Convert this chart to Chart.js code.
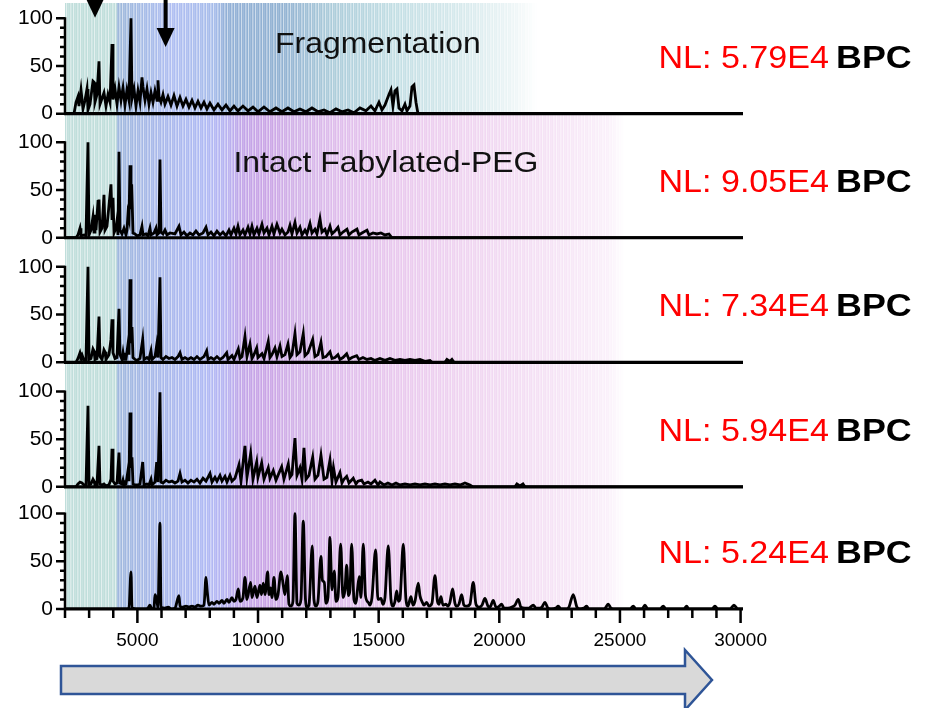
<!DOCTYPE html>
<html>
<head>
<meta charset="utf-8">
<script src="https://cdn.jsdelivr.net/npm/chart.js@4.4.1/dist/chart.umd.min.js"></script>
<style>
  html, body { margin: 0; padding: 0; background: #fff; }
  #wrap { width: 940px; height: 708px; }
</style>
</head>
<body>
<div id="wrap"><canvas id="spectra" width="940" height="708"></canvas></div>
<script>
const FONT = "'Liberation Sans', Arial, sans-serif";

// panel labels
const nlLabels = ["5.79E4", "9.05E4", "7.34E4", "5.94E4", "5.24E4"];
const panelTitles = ["Fragmentation", "Intact Fabylated-PEG"];
const titleMz = [14970, 15300];
const titleLevel = [64, 69];
const markerMz = [3245, 6170];
const markerTip = [100.5, 70];
const panelMax = [116, 130, 130.5, 130.5, 128];
const yTicks = [0, 50, 100];
const xLabelTicks = [5000, 10000, 15000, 20000, 25000, 30000];

// traces, [m/z, relative intensity]
const trace1 = [[2000,0],[2373,0],[2456,12],[2539,18],[2580,8],[2663,25],[2746,5],[2829,14],[2912,26],[2953,4],
  [3036,10],[3160,34],[3202,33],[3243,12],[3326,20],[3409,55],[3450,10],[3533,16],[3616,22],[3699,8],
  [3782,20],[3865,12],[3948,73],[3989,15],[4072,26],[4155,10],[4238,28],[4321,14],[4404,27],[4486,9],
  [4569,25],[4652,14],[4735,100],[4776,16],[4859,26],[4942,8],[5025,24],[5108,12],[5191,38],[5232,28],
  [5315,14],[5398,26],[5481,10],[5564,22],[5647,12],[5730,24],[5813,14],[5854,35],[5895,18],[5978,12],
  [6061,20],[6144,10],[6268,18],[6393,9],[6517,19],[6641,8],[6766,17],[6890,8],[7014,15],[7139,7],
  [7263,14],[7387,6],[7512,13],[7636,6],[7760,12],[7884,5],[8009,11],[8175,4],[8340,10],[8506,4],
  [8672,9],[8838,3],[9003,8],[9169,3],[9376,8],[9584,3],[9791,7],[9998,2],[10247,7],[10495,2],
  [10744,6],[10992,2],[11241,6],[11490,2],[11738,5],[11987,2],[12236,6],[12484,2],[12733,4],[12982,1],
  [13230,5],[13479,2],[13728,4],[13976,1],[14225,6],[14473,3],[14681,8],[14846,3],[15012,12],[15136,4],
  [15261,9],[15427,20],[15510,25],[15592,8],[15675,24],[15758,26],[15841,6],[15966,3],[16090,10],[16173,3],
  [16297,8],[16380,28],[16463,30],[16546,12],[16629,0],[30100,0]];

const trace2 = [[2000,0],[2456,0],[2539,3],[2622,10],[2663,2],[2787,3],[2870,2],[2953,100],[2995,3],[3077,8],
  [3160,22],[3202,6],[3243,24],[3285,8],[3368,38],[3409,40],[3450,6],[3533,10],[3616,45],[3658,8],
  [3740,12],[3906,56],[3948,20],[3989,42],[4031,5],[4113,10],[4155,18],[4196,3],[4238,90],[4279,8],
  [4362,4],[4445,10],[4528,3],[4569,8],[4611,25],[4652,20],[4694,76],[4735,30],[4764,56],[4818,5],
  [4901,4],[4984,2],[5108,3],[5191,12],[5232,3],[5357,4],[5440,2],[5522,10],[5564,3],[5688,5],
  [5771,10],[5813,3],[5895,5],[5937,82],[5978,6],[6061,4],[6144,8],[6227,3],[6351,5],[6558,4],
  [6724,12],[6807,3],[6931,6],[7055,2],[7180,5],[7304,3],[7428,7],[7553,3],[7719,5],[7843,11],
  [7926,3],[8050,6],[8175,2],[8299,7],[8423,3],[8547,6],[8672,2],[8796,8],[8879,3],[9003,10],
  [9086,4],[9169,12],[9252,3],[9376,8],[9459,3],[9584,11],[9666,4],[9749,12],[9832,3],[9956,10],
  [10039,4],[10164,14],[10247,5],[10371,10],[10454,3],[10578,12],[10661,4],[10785,14],[10910,5],[10992,9],
  [11117,3],[11241,6],[11324,13],[11407,4],[11531,16],[11614,5],[11738,11],[11821,3],[11946,8],[12028,4],
  [12153,15],[12236,5],[12360,9],[12443,4],[12567,20],[12650,6],[12774,9],[12857,3],[12982,12],[13065,4],
  [13189,7],[13313,11],[13396,3],[13521,6],[13686,9],[13769,3],[13893,6],[14100,9],[14183,3],[14308,5],
  [14515,8],[14598,3],[14764,5],[14929,4],[15095,5],[15261,3],[15427,4],[15551,0],[30100,0]];

const trace3 = [[2000,0],[2456,0],[2539,4],[2622,10],[2663,6],[2704,8],[2787,2],[2870,2],[2953,100],[2995,3],
  [3077,4],[3160,14],[3202,12],[3243,3],[3326,4],[3409,48],[3450,6],[3533,3],[3616,13],[3658,11],
  [3699,3],[3823,8],[3906,24],[3948,45],[3989,10],[4072,4],[4155,5],[4238,56],[4279,8],[4362,3],
  [4404,10],[4445,3],[4528,3],[4611,19],[4652,8],[4694,87],[4735,20],[4776,37],[4818,5],[4901,3],
  [4984,2],[5108,4],[5220,24],[5274,3],[5398,5],[5481,3],[5564,12],[5605,3],[5730,6],[5800,18],
  [5854,5],[5937,89],[5978,5],[6061,3],[6185,6],[6310,4],[6434,5],[6558,3],[6683,6],[6766,10],
  [6848,3],[6973,5],[7097,3],[7221,5],[7346,3],[7470,6],[7594,3],[7760,6],[7872,12],[7926,3],
  [8050,5],[8175,3],[8299,6],[8423,3],[8547,5],[8701,10],[8755,3],[8920,7],[9003,3],[9182,14],
  [9252,4],[9335,6],[9459,27],[9542,6],[9666,19],[9749,4],[9832,8],[9944,15],[9998,5],[10164,9],
  [10247,4],[10425,22],[10495,5],[10578,8],[10702,15],[10785,6],[10910,17],[10992,6],[11117,8],[11241,19],
  [11324,5],[11407,8],[11531,30],[11614,8],[11738,11],[11875,30],[11946,7],[12070,10],[12265,24],[12360,6],
  [12484,8],[12609,21],[12692,5],[12816,6],[12982,11],[13065,4],[13189,5],[13313,8],[13396,3],[13521,5],
  [13674,9],[13769,3],[13893,5],[14088,7],[14183,3],[14349,5],[14515,3],[14681,4],[14846,2],[15054,4],
  [15261,2],[15468,4],[15675,2],[15882,3],[16090,2],[16297,3],[16504,2],[16711,3],[16918,1],[17126,2],
  [17208,0],[17747,0],[17830,3],[17954,1],[18037,3],[18120,0],[30100,0]];

const trace4 = [[2000,0],[2456,0],[2539,3],[2622,5],[2704,4],[2787,2],[2870,1],[2953,85],[2995,2],[3077,3],
  [3160,8],[3202,6],[3243,2],[3326,2],[3409,43],[3450,3],[3533,2],[3616,3],[3699,1],[3823,2],
  [3906,8],[3948,40],[3989,6],[4072,3],[4155,4],[4238,36],[4279,4],[4362,3],[4404,7],[4445,2],
  [4528,3],[4611,17],[4652,6],[4694,78],[4735,20],[4776,31],[4818,3],[4901,2],[5025,2],[5108,3],
  [5220,26],[5274,2],[5398,3],[5481,2],[5564,8],[5605,2],[5730,5],[5800,26],[5854,5],[5937,99],
  [5978,5],[6061,4],[6185,7],[6310,5],[6434,6],[6558,4],[6683,6],[6766,14],[6848,5],[6973,7],
  [7097,4],[7221,7],[7346,5],[7470,8],[7594,4],[7719,9],[7843,6],[8009,14],[8092,5],[8216,10],
  [8299,6],[8423,12],[8506,6],[8630,11],[8713,5],[8838,12],[8920,6],[9045,9],[9211,23],[9294,6],
  [9459,43],[9542,10],[9695,35],[9791,8],[9944,26],[9998,10],[10151,25],[10247,8],[10425,20],[10495,9],
  [10632,17],[10744,7],[10827,12],[10980,21],[11075,8],[11254,24],[11324,10],[11407,13],[11531,51],[11614,12],
  [11738,20],[11821,8],[11904,41],[11987,8],[12111,12],[12265,31],[12360,8],[12484,12],[12609,33],[12733,8],
  [12857,10],[12982,28],[13065,6],[13127,20],[13230,5],[13396,15],[13479,4],[13562,8],[13674,11],[13769,4],
  [13947,9],[14059,3],[14142,6],[14295,7],[14391,3],[14556,5],[14681,3],[14846,7],[14971,2],[15054,5],
  [15219,2],[15385,4],[15551,2],[15717,4],[15882,2],[16090,3],[16297,2],[16504,3],[16711,2],[16918,3],
  [17126,2],[17333,3],[17540,2],[17747,3],[17954,2],[18162,3],[18369,2],[18576,4],[18783,2],[18908,0],
  [20648,0],[20731,3],[20855,1],[20980,3],[21062,0],[30100,0]];

const trace5 = [[2000,0],[4528,0],[4652,1],[4735,39],[4776,1],[5108,0],[5357,0],[5440,1],[5522,4],[5605,0],
  [5688,1],[5730,15],[5800,10],[5854,1],[5937,90],[5978,2],[6144,1],[6281,2],[6393,0],[6558,1],
  [6724,14],[6766,3],[6890,2],[7014,3],[7139,2],[7263,3],[7387,2],[7512,4],[7636,3],[7760,4],
  [7843,33],[7897,18],[7967,4],[8092,7],[8175,5],[8299,8],[8382,6],[8506,9],[8589,6],[8713,10],
  [8796,7],[8920,12],[9003,8],[9086,10],[9182,21],[9252,8],[9376,12],[9459,33],[9542,10],[9695,28],
  [9749,12],[9874,24],[9956,12],[10081,25],[10143,15],[10218,27],[10288,15],[10400,39],[10454,15],[10524,22],
  [10578,12],[10661,33],[10744,10],[10827,15],[10951,39],[11046,25],[11117,15],[11212,35],[11283,5],[11365,3],
  [11448,8],[11531,100],[11614,6],[11697,4],[11780,10],[11875,92],[11966,10],[12028,2],[12111,4],[12248,66],
  [12318,10],[12401,3],[12484,8],[12609,55],[12671,30],[12746,28],[12816,6],[12899,12],[12982,75],[13065,20],
  [13160,40],[13230,8],[13313,12],[13425,68],[13521,12],[13603,20],[13674,46],[13748,14],[13810,20],[13881,68],
  [13976,10],[14059,6],[14121,20],[14196,34],[14266,12],[14362,68],[14453,14],[14569,7],[14639,4],[14722,12],
  [14875,62],[14971,10],[15095,11],[15178,5],[15261,12],[15398,66],[15510,10],[15592,3],[15675,8],[15746,19],
  [15820,8],[15882,10],[16020,68],[16131,10],[16214,3],[16338,13],[16421,4],[16504,8],[16641,27],[16711,14],
  [16794,8],[16877,4],[16989,7],[17084,3],[17208,6],[17333,35],[17436,8],[17499,5],[17581,13],[17664,4],
  [17789,5],[17871,3],[17954,7],[18066,21],[18162,6],[18244,3],[18327,5],[18439,15],[18535,4],[18659,3],
  [18783,5],[18920,28],[19032,5],[19156,2],[19281,4],[19405,11],[19529,3],[19612,2],[19749,9],[19861,2],
  [19944,2],[20097,5],[20192,1],[20358,1],[20524,2],[20648,4],[20785,10],[20897,2],[21062,1],[21228,1],
  [21407,4],[21518,1],[21684,1],[21767,2],[21891,7],[22016,1],[22181,0],[22347,1],[22443,3],[22554,0],
  [22761,0],[22886,2],[23064,15],[23217,2],[23342,0],[23507,1],[23619,3],[23715,0],[24336,0],[24419,2],
  [24514,5],[24626,1],[24792,0],[25414,0],[25551,3],[25663,0],[25911,0],[26036,4],[26160,0],[26657,0],
  [26794,3],[26906,0],[27652,0],[27764,3],[27859,0],[28813,0],[28937,3],[29062,0],[29560,0],[29725,4],
  [29891,0],[30100,0]];

const traces = [trace1, trace2, trace3, trace4, trace5];

// background tint, keyed by m/z
const upperBand = [[2000,[192,222,219]],[4130,[192,222,219]],[4160,[158,184,218]],[5600,[168,188,234]],
  [6400,[176,190,242]],[8200,[166,188,234]],[8700,[146,176,214]],[11000,[146,178,210]],[13000,[172,204,218]],
  [15500,[194,222,228]],[18500,[216,234,237]],[20500,[236,245,246]],[21600,[255,255,255]],[30100,[255,255,255]]];
const lowerBand = [[2000,[192,222,219]],[4130,[192,222,219]],[4160,[160,184,222]],[5800,[168,184,234]],
  [7800,[176,186,244]],[8600,[182,180,242]],[9300,[194,166,232]],[10300,[202,164,230]],[11500,[210,178,232]],
  [13500,[224,190,236]],[16000,[234,202,238]],[19000,[240,214,241]],[22000,[245,226,245]],[24500,[250,240,250]],
  [25200,[255,255,255]],[30100,[255,255,255]]];

function colorAt(stops, v) {
  for (let i = 1; i < stops.length; i++) {
    if (v <= stops[i][0]) {
      const a = stops[i - 1], b = stops[i];
      const t = Math.max(0, (v - a[0]) / (b[0] - a[0]));
      return a[1].map((c, k) => c + (b[1][k] - c) * t);
    }
  }
  return stops[stops.length - 1][1];
}

function stripe(px) {
  return [0.4, 0, 0.15, 0.05, 0.55, 0, 0.22][(px * 13) % 7];
}

function rgb(c, f) {
  const m = c.map(v => Math.round(v + (255 - v) * f));
  return "rgb(" + m.join(",") + ")";
}

function wideText(ctx, text, x, y, sx) {
  ctx.save();
  ctx.translate(x, y);
  ctx.scale(sx, 1);
  ctx.fillText(text, 0, 0);
  ctx.restore();
}

const backdrop = {
  id: "backdrop",
  beforeDraw(chart) {
    const { ctx, chartArea: a, scales } = chart;
    const split = scales.y0.getPixelForValue(0);
    ctx.save();
    for (let px = Math.floor(a.left); px < a.right; px++) {
      const v = scales.x.getValueForPixel(px + 0.5);
      const f = stripe(px);
      ctx.fillStyle = rgb(colorAt(upperBand, v), f);
      ctx.fillRect(px, a.top, 1, split - a.top);
      ctx.fillStyle = rgb(colorAt(lowerBand, v), f);
      ctx.fillRect(px, split, 1, a.bottom - split);
    }
    ctx.restore();
  },
};

const frame = {
  id: "frame",
  afterDatasetsDraw(chart) {
    const { ctx, chartArea: a, scales } = chart;
    ctx.save();
    ctx.strokeStyle = "#000";
    ctx.lineCap = "butt";
    for (let i = 0; i < traces.length; i++) {
      const y = scales["y" + i];
      const base = y.getPixelForValue(0);
      ctx.lineWidth = 3.2;
      ctx.beginPath();
      ctx.moveTo(a.left - 1, base);
      ctx.lineTo(a.right, base);
      ctx.stroke();
      ctx.lineWidth = 2.5;
      ctx.beginPath();
      ctx.moveTo(a.left, base);
      ctx.lineTo(a.left, y.getPixelForValue(100) - 1);
      for (let v = 0; v <= 100; v += 10) {
        const py = y.getPixelForValue(v);
        ctx.moveTo(a.left - (v % 50 === 0 ? 9 : 5), py);
        ctx.lineTo(a.left, py);
      }
      ctx.stroke();
    }
    // x ticks
    ctx.lineWidth = 2.5;
    ctx.beginPath();
    scales.x.ticks.forEach(t => {
      const px = scales.x.getPixelForValue(t.value);
      ctx.moveTo(px, a.bottom);
      ctx.lineTo(px, a.bottom + (t.value % 5000 === 0 ? 14 : 9));
    });
    ctx.stroke();
    ctx.restore();
  },
  afterDraw(chart) {
    const { ctx, scales } = chart;
    ctx.save();
    ctx.textBaseline = "alphabetic";
    for (let i = 0; i < nlLabels.length; i++) {
      const base = scales["y" + i].getPixelForValue(0);
      ctx.fillStyle = "#ff0000";
      ctx.font = "31px " + FONT;
      ctx.textAlign = "right";
      wideText(ctx, "NL: " + nlLabels[i], 829, base - 46, 1.1);
      ctx.fillStyle = "#000";
      ctx.font = "bold 32px " + FONT;
      ctx.textAlign = "left";
      wideText(ctx, "BPC", 836, base - 46, 1.12);
    }
    ctx.fillStyle = "#111";
    ctx.font = "29px " + FONT;
    ctx.textAlign = "center";
    panelTitles.forEach((t, i) => {
      const y = scales["y" + i];
      wideText(ctx, t, scales.x.getPixelForValue(titleMz[i]), y.getPixelForValue(titleLevel[i]), 1.1);
    });
    // down arrows
    ctx.fillStyle = "#000";
    markerMz.forEach((m, i) => {
      const px = scales.x.getPixelForValue(m);
      const tip = scales.y0.getPixelForValue(markerTip[i]);
      ctx.fillRect(px - 2, 0, 4, tip - 18);
      ctx.beginPath();
      ctx.moveTo(px - 9, tip - 19);
      ctx.lineTo(px + 9, tip - 19);
      ctx.lineTo(px, tip);
      ctx.closePath();
      ctx.fill();
    });
    // big arrow under the axis
    ctx.beginPath();
    ctx.moveTo(61, 666);
    ctx.lineTo(685, 666);
    ctx.lineTo(685, 650);
    ctx.lineTo(712, 680);
    ctx.lineTo(685, 710);
    ctx.lineTo(685, 694);
    ctx.lineTo(61, 694);
    ctx.closePath();
    ctx.fillStyle = "#d9d9d9";
    ctx.fill();
    ctx.lineWidth = 2.5;
    ctx.strokeStyle = "#2f5597";
    ctx.stroke();
    ctx.restore();
  },
};

function yAxis(i) {
  return {
    type: "linear",
    position: "left",
    stack: "ms",
    stackWeight: panelMax[i],
    min: 0,
    max: panelMax[i],
    grid: { display: false, drawTicks: false },
    border: { display: false },
    afterBuildTicks: s => { s.ticks = yTicks.map(v => ({ value: v })); },
    afterFit: s => { s.width = 65; s.paddingTop = 0; s.paddingBottom = 0; },
    ticks: { color: "#000", padding: 12, font: { family: FONT, size: 21 } },
  };
}

function init() {
  const scales = {
    x: {
      type: "linear",
      position: "bottom",
      min: 2000,
      max: 30100,
      grid: { display: false, drawTicks: false },
      border: { display: false },
      afterBuildTicks: s => {
        s.ticks = [];
        for (let v = 2000; v <= 30000; v += 1000) s.ticks.push({ value: v });
      },
      afterFit: s => { s.height = 99; s.paddingLeft = 0; s.paddingRight = 0; },
      ticks: {
        autoSkip: false,
        maxRotation: 0,
        color: "#000",
        padding: 20,
        font: { family: FONT, size: 19 },
        callback: v => (xLabelTicks.includes(v) ? String(v) : ""),
      },
    },
  };
  for (let i = traces.length - 1; i >= 0; i--) scales["y" + i] = yAxis(i);

  new Chart(document.getElementById("spectra"), {
    type: "line",
    data: {
      datasets: traces.map((t, i) => ({
        data: t.map(p => ({ x: p[0], y: p[1] })),
        yAxisID: "y" + i,
        borderColor: "#000",
        borderWidth: 2.8,
        pointRadius: 0,
        fill: false,
        tension: 0,
        cubicInterpolationMode: i === 4 ? "monotone" : "default",
      })),
    },
    options: {
      responsive: false,
      animation: false,
      layout: { padding: { top: 3, right: 197, bottom: 0, left: 0 } },
      plugins: { legend: { display: false }, tooltip: { enabled: false } },
      scales: scales,
    },
    plugins: [backdrop, frame],
  });
}

window.onload = init;
</script>
</body>
</html>
